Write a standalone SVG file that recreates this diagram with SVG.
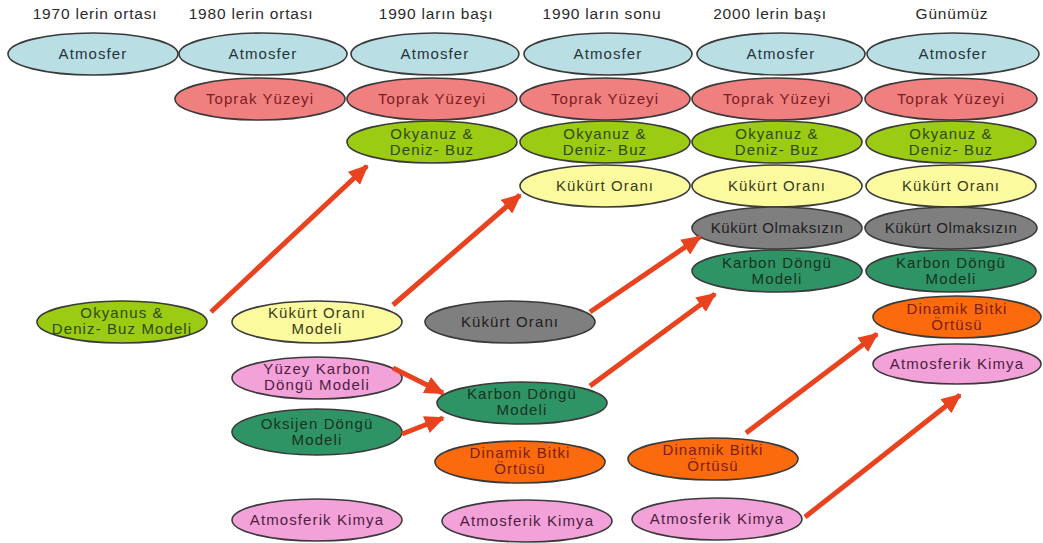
<svg xmlns="http://www.w3.org/2000/svg" width="1043" height="543" viewBox="0 0 1043 543">
  <style>
    .hdr { font-family: "Liberation Sans", Arial, sans-serif; font-size: 15.5px; letter-spacing: 0.8px; fill: #2a2a2a; text-anchor: middle; }
    .lbl { font-family: "Liberation Sans", Arial, sans-serif; font-size: 15px; letter-spacing: 1.1px; text-anchor: middle; }
    ellipse { stroke: #3a3a3a; stroke-width: 1.6; }
    .atm ellipse { fill: #b9dfe4; }
    .atm text { fill: #26333a; }
    .top ellipse { fill: #f07f80; }
    .top text { fill: #7a1d22; }
    .oky ellipse { fill: #9ccb14; }
    .oky text { fill: #2f4a10; }
    .kuk ellipse { fill: #fbfa9e; }
    .kuk text { fill: #3a3a1c; }
    .gry ellipse { fill: #7f7f7f; }
    .gry text { fill: #1e1e1e; }
    .krb ellipse { fill: #2f9465; }
    .krb text { fill: #18331f; }
    .din ellipse { fill: #fb6a0c; }
    .din text { fill: #7a1e10; }
    .kim ellipse { fill: #f3a2d9; }
    .kim text { fill: #4d1d42; }
    .arr { stroke: #e8431e; stroke-width: 5; fill: none; marker-end: url(#head); }
  </style>
  <defs>
    <marker id="head" markerWidth="20" markerHeight="18" refX="18" refY="9" orient="auto" markerUnits="userSpaceOnUse">
      <path d="M0,0 L20,9 L0,18 Z" fill="#e8431e"/>
    </marker>
  </defs>
  <rect width="1043" height="543" fill="#ffffff"/>

  <!-- period headings -->
  <g id="headings">
    <text class="hdr" x="95" y="19">1970 lerin ortası</text>
    <text class="hdr" x="251" y="19">1980 lerin ortası</text>
    <text class="hdr" x="436" y="19">1990 ların başı</text>
    <text class="hdr" x="602" y="19">1990 ların sonu</text>
    <text class="hdr" x="770" y="19">2000 lerin başı</text>
    <text class="hdr" x="952" y="19">Günümüz</text>
  </g>

  <!-- column 1970s -->
  <g id="c1-atmosfer" class="atm"><ellipse cx="93" cy="54" rx="85" ry="21"/><text class="lbl" x="93" y="59">Atmosfer</text></g>

  <!-- column 1980s -->
  <g id="c2-atmosfer" class="atm"><ellipse cx="263" cy="54" rx="84" ry="21"/><text class="lbl" x="263" y="59">Atmosfer</text></g>
  <g id="c2-toprak" class="top"><ellipse cx="260" cy="99" rx="85" ry="21"/><text class="lbl" x="260" y="104">Toprak Yüzeyi</text></g>

  <!-- column early 1990s -->
  <g id="c3-atmosfer" class="atm"><ellipse cx="435" cy="54" rx="84" ry="21"/><text class="lbl" x="435" y="59">Atmosfer</text></g>
  <g id="c3-toprak" class="top"><ellipse cx="432" cy="99" rx="85" ry="21"/><text class="lbl" x="432" y="104">Toprak Yüzeyi</text></g>
  <g id="c3-okyanus" class="oky"><ellipse cx="432" cy="142" rx="85" ry="21"/><text class="lbl" x="432" y="139">Okyanuz &amp;</text><text class="lbl" x="432" y="155">Deniz- Buz</text></g>

  <!-- column late 1990s -->
  <g id="c4-atmosfer" class="atm"><ellipse cx="608" cy="54" rx="84" ry="21"/><text class="lbl" x="608" y="59">Atmosfer</text></g>
  <g id="c4-toprak" class="top"><ellipse cx="605" cy="99" rx="85" ry="21"/><text class="lbl" x="605" y="104">Toprak Yüzeyi</text></g>
  <g id="c4-okyanus" class="oky"><ellipse cx="605" cy="142" rx="85" ry="21"/><text class="lbl" x="605" y="139">Okyanuz &amp;</text><text class="lbl" x="605" y="155">Deniz- Buz</text></g>
  <g id="c4-kukurt" class="kuk"><ellipse cx="605" cy="186" rx="85" ry="21"/><text class="lbl" x="605" y="191">Kükürt Oranı</text></g>

  <!-- column early 2000s -->
  <g id="c5-atmosfer" class="atm"><ellipse cx="781" cy="54" rx="84" ry="21"/><text class="lbl" x="781" y="59">Atmosfer</text></g>
  <g id="c5-toprak" class="top"><ellipse cx="777" cy="99" rx="85" ry="21"/><text class="lbl" x="777" y="104">Toprak Yüzeyi</text></g>
  <g id="c5-okyanus" class="oky"><ellipse cx="777" cy="142" rx="85" ry="21"/><text class="lbl" x="777" y="139">Okyanuz &amp;</text><text class="lbl" x="777" y="155">Deniz- Buz</text></g>
  <g id="c5-kukurt" class="kuk"><ellipse cx="777" cy="186" rx="85" ry="21"/><text class="lbl" x="777" y="191">Kükürt Oranı</text></g>
  <g id="c5-olmaksizin" class="gry"><ellipse cx="777" cy="228" rx="85" ry="21"/><text class="lbl" x="777" y="233" style="letter-spacing:0.6px">Kükürt Olmaksızın</text></g>
  <g id="c5-karbon" class="krb"><ellipse cx="777" cy="271" rx="85" ry="21"/><text class="lbl" x="777" y="268">Karbon Döngü</text><text class="lbl" x="777" y="284">Modeli</text></g>

  <!-- column present day -->
  <g id="c6-atmosfer" class="atm"><ellipse cx="953" cy="54" rx="86" ry="21"/><text class="lbl" x="953" y="59">Atmosfer</text></g>
  <g id="c6-toprak" class="top"><ellipse cx="951" cy="99" rx="86" ry="21"/><text class="lbl" x="951" y="104">Toprak Yüzeyi</text></g>
  <g id="c6-okyanus" class="oky"><ellipse cx="951" cy="142" rx="85" ry="21"/><text class="lbl" x="951" y="139">Okyanuz &amp;</text><text class="lbl" x="951" y="155">Deniz- Buz</text></g>
  <g id="c6-kukurt" class="kuk"><ellipse cx="951" cy="186" rx="85" ry="21"/><text class="lbl" x="951" y="191">Kükürt Oranı</text></g>
  <g id="c6-olmaksizin" class="gry"><ellipse cx="951" cy="228" rx="86" ry="21"/><text class="lbl" x="951" y="233" style="letter-spacing:0.6px">Kükürt Olmaksızın</text></g>
  <g id="c6-karbon" class="krb"><ellipse cx="951" cy="271" rx="85" ry="21"/><text class="lbl" x="951" y="268">Karbon Döngü</text><text class="lbl" x="951" y="284">Modeli</text></g>
  <g id="c6-dinamik" class="din"><ellipse cx="957" cy="317" rx="84" ry="21"/><text class="lbl" x="957" y="314">Dinamik Bitki</text><text class="lbl" x="957" y="330">Örtüsü</text></g>
  <g id="c6-kimya" class="kim"><ellipse cx="957" cy="364" rx="84" ry="20"/><text class="lbl" x="957" y="369">Atmosferik Kimya</text></g>

  <!-- separate component models -->
  <g id="m-okyanus" class="oky"><ellipse cx="122" cy="322" rx="85" ry="21"/><text class="lbl" x="122" y="318">Okyanus &amp;</text><text class="lbl" x="122" y="334">Deniz- Buz Modeli</text></g>
  <g id="m-kukurt" class="kuk"><ellipse cx="317" cy="322" rx="85" ry="21"/><text class="lbl" x="317" y="318">Kükürt Oranı</text><text class="lbl" x="317" y="334">Modeli</text></g>
  <g id="m-yuzey-karbon" class="kim"><ellipse cx="317" cy="378" rx="85" ry="21"/><text class="lbl" x="317" y="374">Yüzey Karbon</text><text class="lbl" x="317" y="390">Döngü Modeli</text></g>
  <g id="m-oksijen" class="krb"><ellipse cx="317" cy="432" rx="85" ry="23"/><text class="lbl" x="317" y="429">Oksijen Döngü</text><text class="lbl" x="317" y="445">Modeli</text></g>
  <g id="m-kimya-1" class="kim"><ellipse cx="317" cy="520" rx="85" ry="21"/><text class="lbl" x="317" y="525">Atmosferik Kimya</text></g>

  <g id="m-kukurt-gri" class="gry"><ellipse cx="510" cy="322" rx="85" ry="21"/><text class="lbl" x="510" y="327">Kükürt Oranı</text></g>
  <g id="m-karbon" class="krb"><ellipse cx="522" cy="403" rx="85" ry="21"/><text class="lbl" x="522" y="399">Karbon Döngü</text><text class="lbl" x="522" y="415">Modeli</text></g>
  <g id="m-dinamik-1" class="din"><ellipse cx="520" cy="462" rx="85" ry="21"/><text class="lbl" x="520" y="458">Dinamik Bitki</text><text class="lbl" x="520" y="474">Örtüsü</text></g>
  <g id="m-kimya-2" class="kim"><ellipse cx="527" cy="521" rx="85" ry="21"/><text class="lbl" x="527" y="526">Atmosferik Kimya</text></g>

  <g id="m-dinamik-2" class="din"><ellipse cx="713" cy="459" rx="85" ry="21"/><text class="lbl" x="713" y="455">Dinamik Bitki</text><text class="lbl" x="713" y="471">Örtüsü</text></g>
  <g id="m-kimya-3" class="kim"><ellipse cx="717" cy="519" rx="85" ry="21"/><text class="lbl" x="717" y="524">Atmosferik Kimya</text></g>

  <!-- coupling arrows -->
  <g id="connectors">
    <line class="arr" x1="211" y1="312" x2="367" y2="166"/>
    <line class="arr" x1="393" y1="305" x2="520" y2="195"/>
    <line class="arr" x1="590" y1="312" x2="700" y2="237"/>
    <line class="arr" x1="590" y1="386" x2="715" y2="294"/>
    <line class="arr" x1="393" y1="368" x2="443" y2="393"/>
    <line class="arr" x1="402" y1="434" x2="443" y2="418"/>
    <line class="arr" x1="746" y1="433" x2="877" y2="334"/>
    <line class="arr" x1="805" y1="517" x2="960" y2="395"/>
  </g>
</svg>
